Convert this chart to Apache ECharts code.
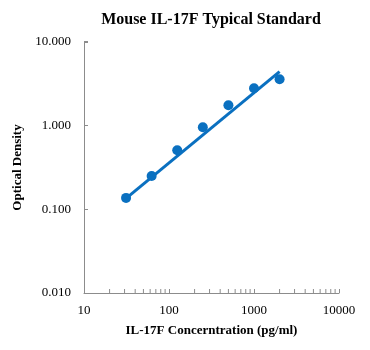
<!DOCTYPE html>
<html>
<head>
<meta charset="utf-8">
<script src="https://cdn.jsdelivr.net/npm/echarts@6/dist/echarts.min.js"></script>
<style>
  html, body { margin: 0; padding: 0; background: #fff; }
  #chart { width: 370px; height: 350px; }
</style>
</head>
<body>
<div id="chart"></div>
<script>
/* ── data ── */
const conc = [31.25, 62.5, 125, 250, 500, 1000, 2000];
const od = [0.137, 0.25, 0.508, 0.957, 1.75, 2.8, 3.58];
const fitX = [31.25, 2000];
const fitY = [0.135, 4.42];
const xMinorTicks = [20, 30, 40, 50, 60, 70, 80, 90, 200, 300, 400, 500, 600, 700, 800, 900, 2000, 3000, 4000, 5000, 6000, 7000, 8000, 9000];
const yMinorTicks = [0.02, 0.03, 0.04, 0.05, 0.06, 0.07, 0.08, 0.09, 0.2, 0.3, 0.4, 0.5, 0.6, 0.7, 0.8, 0.9, 2, 3, 4, 5, 6, 7, 8, 9];

/* ── constants ── */
const BLUE = "#0a70c0";
const AXIS = "#8c8c8c";
const SERIF = "Liberation Serif, Times New Roman, serif";

const chart = echarts.init(document.getElementById("chart"));

function minorTick(isX) {
  return (params, api) => {
    const v = api.value(0);
    const p = isX ? api.coord([v, 0.01]) : api.coord([10, v]);
    const shape = isX
      ? { x1: p[0], y1: p[1], x2: p[0], y2: p[1] - 4 }
      : { x1: p[0], y1: p[1], x2: p[0] + 4, y2: p[1] };
    return { type: "line", shape, style: { stroke: AXIS, lineWidth: 1 } };
  };
}

chart.setOption({
  animation: false,
  title: {
    text: "Mouse IL-17F Typical Standard",
    left: 206, top: 7, textAlign: "center",
    textStyle: { fontFamily: SERIF, fontWeight: "bold", fontSize: 16, color: "#000" },
  },
  grid: { left: 84, right: 31, top: 42, bottom: 57 },
  xAxis: {
    type: "log", logBase: 10, min: 10, max: 10000,
    name: "IL-17F Concerntration (pg/ml)",
    nameLocation: "middle", nameGap: 31,
    nameTextStyle: { fontFamily: SERIF, fontWeight: "bold", fontSize: 13, color: "#000" },
    axisLine: { lineStyle: { color: AXIS } },
    axisTick: { inside: true, length: 4, lineStyle: { color: AXIS } },
    axisLabel: { fontFamily: SERIF, fontSize: 13, color: "#000", margin: 11, formatter: (v) => String(Math.round(v)) },
    splitLine: { show: false },
  },
  yAxis: {
    type: "log", logBase: 10, min: 0.01, max: 10,
    name: "Optical Density",
    nameLocation: "middle", nameGap: 54,
    nameTextStyle: { fontFamily: SERIF, fontWeight: "bold", fontSize: 13, color: "#000" },
    axisLine: { show: true, lineStyle: { color: AXIS } },
    axisTick: { show: true, inside: true, length: 4, lineStyle: { color: AXIS } },
    axisLabel: { fontFamily: SERIF, fontSize: 13, color: "#000", margin: 13, formatter: (v) => v.toFixed(3) },
    splitLine: { show: false },
  },
  series: [
    {
      type: "custom", renderItem: minorTick(true), data: xMinorTicks.map((v) => [v]),
      encode: { x: 0 }, silent: true, clip: false,
    },
    {
      type: "custom", renderItem: minorTick(false), data: yMinorTicks.map((v) => [10, v]),
      encode: { y: 1 }, silent: true, clip: false,
    },
    {
      type: "line", data: fitX.map((x, i) => [x, fitY[i]]),
      showSymbol: false, lineStyle: { color: BLUE, width: 3 }, z: 3,
    },
    {
      type: "scatter", data: conc.map((x, i) => [x, od[i]]),
      symbolSize: 10, itemStyle: { color: BLUE, opacity: 1 }, z: 4,
    },
  ],
});
</script>
</body>
</html>
